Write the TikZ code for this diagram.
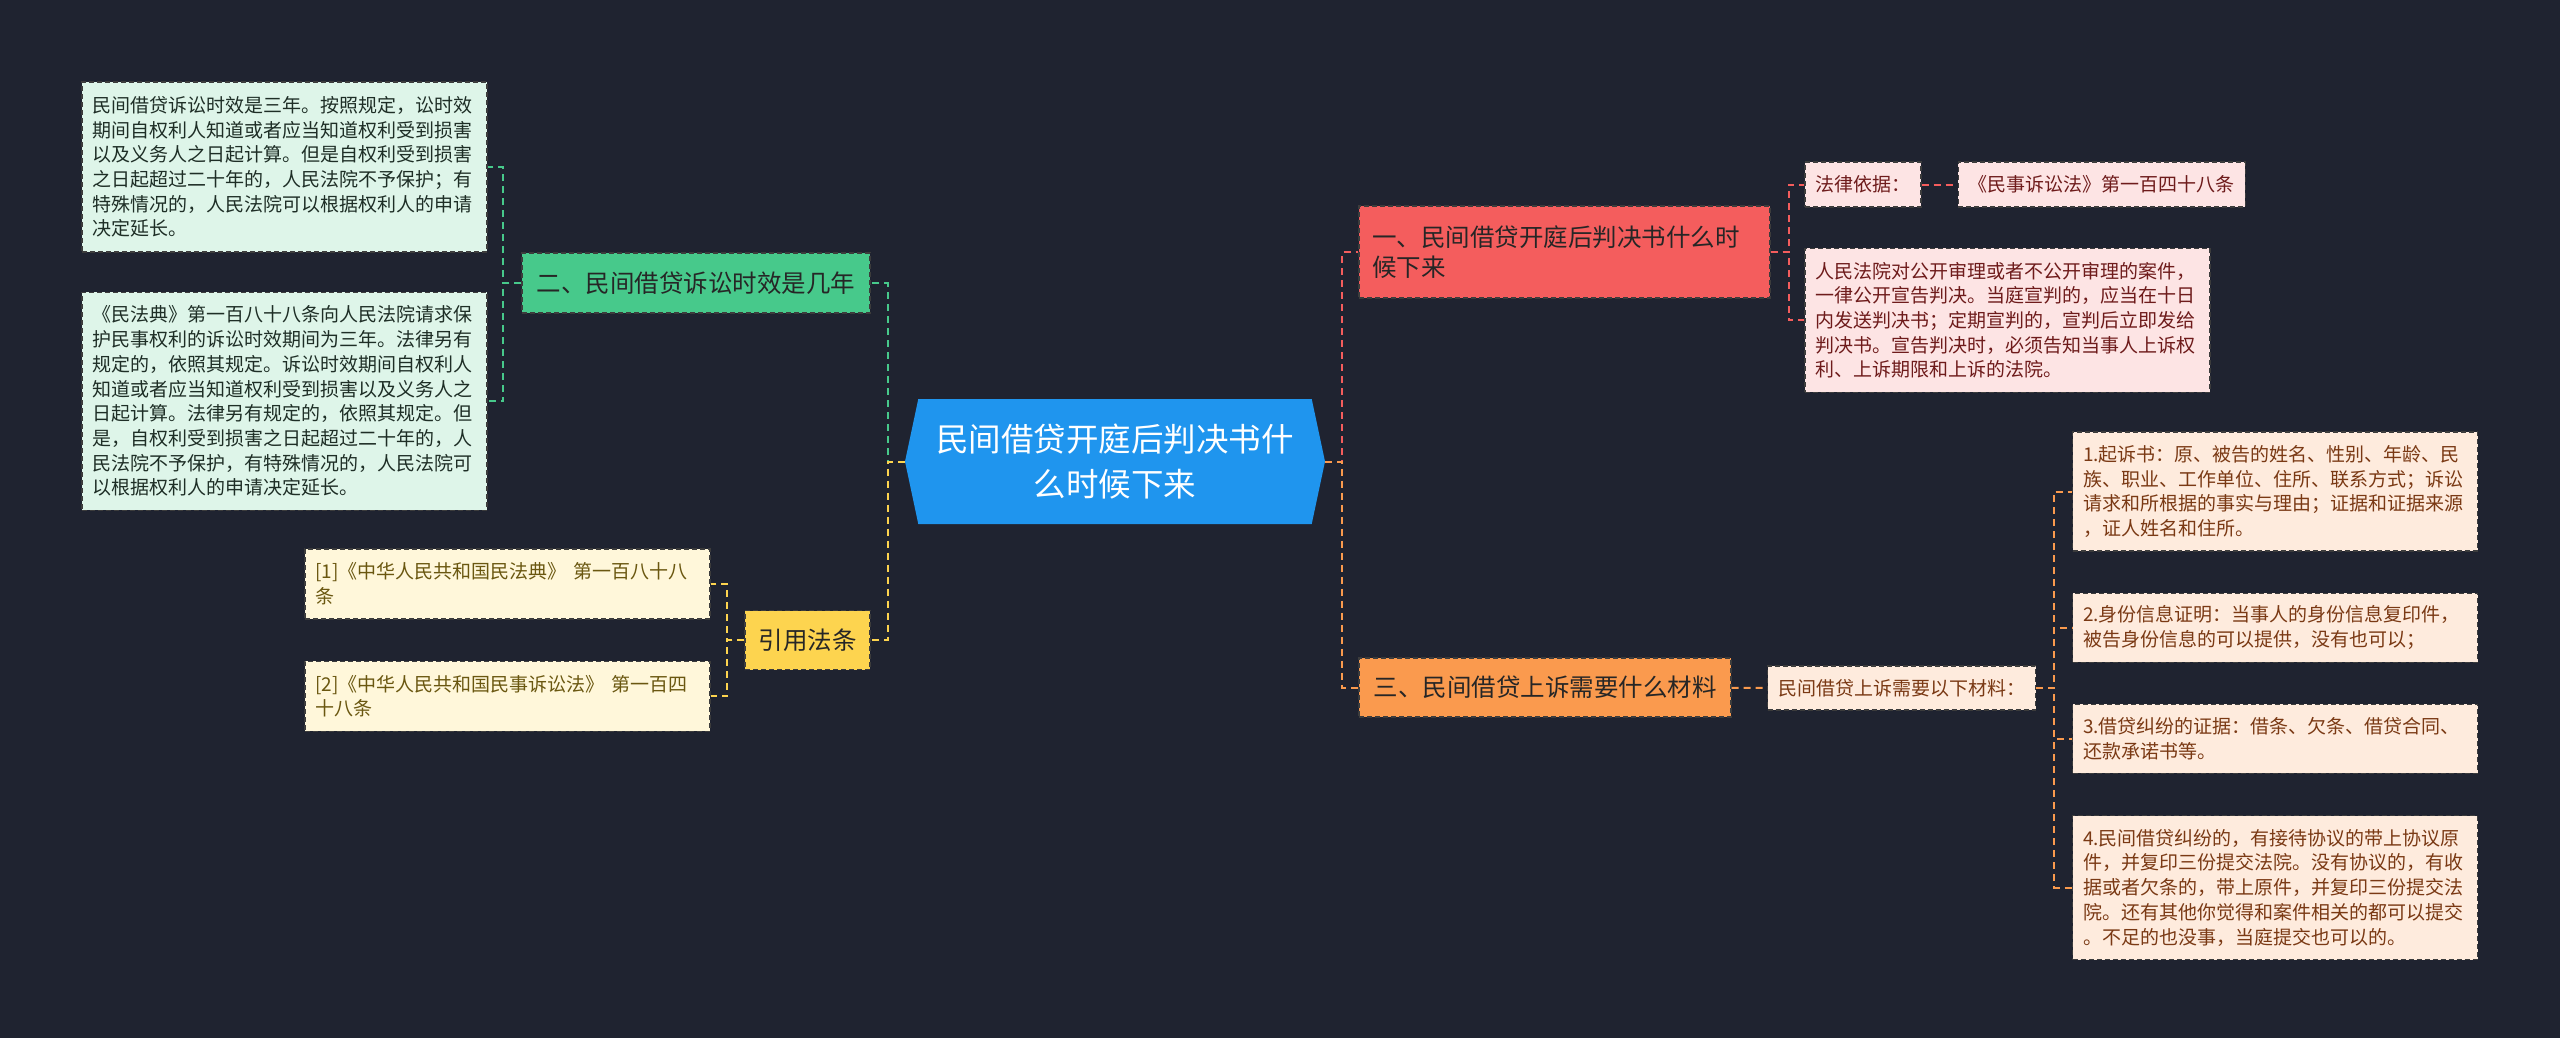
\documentclass[tikz,border=0pt]{standalone}
\usepackage{fontspec}
\setmainfont{Noto Sans CJK SC}
\usepackage{tikz}
\usetikzlibrary{positioning,shapes.symbols}
\usepackage{xcolor}
\definecolor{bgnavy}{HTML}{1F2330}
\definecolor{rootblue}{HTML}{1F95EE}
\definecolor{mintgreen}{HTML}{47C98B}
\definecolor{mintleaf}{HTML}{DEF5E9}
\definecolor{mintink}{HTML}{1E2E26}
\definecolor{goldyellow}{HTML}{FDD44F}
\definecolor{goldleaf}{HTML}{FFF7DA}
\definecolor{goldink}{HTML}{6A5710}
\definecolor{coralred}{HTML}{F45D5D}
\definecolor{coralleaf}{HTML}{FDE4E4}
\definecolor{coralink}{HTML}{6E1B1B}
\definecolor{peach}{HTML}{FA9A4E}
\definecolor{peachleaf}{HTML}{FEEBDD}
\definecolor{peachink}{HTML}{7A3914}
\definecolor{boxedge}{HTML}{3C3C3C}
\newcommand{\leaffont}{\fontsize{19}{24.7}\selectfont}
\newcommand{\branchfont}{\fontsize{24.5}{30}\selectfont}
\newcommand{\rootfont}{\fontsize{32.5}{45}\selectfont}

\begin{document}
\begin{tikzpicture}[
  x=1pt, y=-1pt,
  node distance=41pt,
  root/.style={signal, signal to=east and west, signal pointer angle=156, fill=rootblue, text=white, minimum width=420pt, minimum height=125pt, align=center, font=\rootfont, inner sep=4pt},
  branch/.style={draw=boxedge, line width=1.2pt, dash pattern=on 5pt off 3pt, fill=#1, text=black!85, inner xsep=13pt, inner ysep=6pt, font=\branchfont, align=left},
  leaf/.style={draw=boxedge, line width=1.2pt, dash pattern=on 5pt off 3pt, fill=#1, inner xsep=10.5pt, inner ysep=5pt, font=\leaffont, align=left},
  leafwide/.style={text width=384pt},
  link/.style={draw=#1, line width=2pt, dash pattern=on 7pt off 5pt}
]
\fill[bgnavy] (0,0) rectangle (2560,1038);
\useasboundingbox (0,0) rectangle (2560,1038);

\node[root] (root) at (1115,461.5) {民间借贷开庭后判决书什\\么时候下来};

% left side
\node[branch=mintgreen, minimum width=348pt, minimum height=60pt] (limit) at (696,283) {二、民间借贷诉讼时效是几年};
\node[branch=goldyellow, minimum width=125pt, minimum height=59pt] (cite) at (807.5,640) {引用法条};
\node[leaf=mintleaf, leafwide, text=mintink, minimum height=170pt] (limitA) at (284.5,167) {民间借贷诉讼时效是三年。按照规定，讼时效\\期间自权利人知道或者应当知道权利受到损害\\以及义务人之日起计算。但是自权利受到损害\\之日起超过二十年的，人民法院不予保护；有\\特殊情况的，人民法院可以根据权利人的申请\\决定延长。};
\node[leaf=mintleaf, leafwide, text=mintink, minimum height=218pt, below=39pt of limitA] (limitB) {《民法典》第一百八十八条向人民法院请求保\\护民事权利的诉讼时效期间为三年。法律另有\\规定的，依照其规定。诉讼时效期间自权利人\\知道或者应当知道权利受到损害以及义务人之\\日起计算。法律另有规定的，依照其规定。但\\是，自权利受到损害之日起超过二十年的，人\\民法院不予保护，有特殊情况的，人民法院可\\以根据权利人的申请决定延长。};
\node[leaf=goldleaf, leafwide, text=goldink, minimum height=70pt] (citeA) at (507.5,584) {[1]《中华人民共和国民法典》 第一百八十八\\条};
\node[leaf=goldleaf, leafwide, text=goldink, minimum height=70pt, below=of citeA] (citeB) {[2]《中华人民共和国民事诉讼法》 第一百四\\十八条};

% right side
\node[branch=coralred, text width=385pt, minimum height=92pt] (verdict) at (1564.5,252) {一、民间借贷开庭后判决书什么时\\候下来};
\node[branch=peach, minimum width=372pt, minimum height=59pt] (appeal) at (1545,687.5) {三、民间借贷上诉需要什么材料};
\node[leaf=coralleaf, text=coralink, minimum height=45pt] (basis) at (1863,184.5) {法律依据：};
\node[leaf=coralleaf, text=coralink, minimum height=45pt, right=36pt of basis] (lawref) {《民事诉讼法》第一百四十八条};
\node[leaf=coralleaf, leafwide, text=coralink, minimum height=144pt, below=40pt of basis.south west, anchor=north west] (ruling) {人民法院对公开审理或者不公开审理的案件，\\一律公开宣告判决。当庭宣判的，应当在十日\\内发送判决书；定期宣判的，宣判后立即发给\\判决书。宣告判决时，必须告知当事人上诉权\\利、上诉期限和上诉的法院。};
\node[leaf=peachleaf, text=peachink, minimum height=44pt] (needs) at (1901.5,688) {民间借贷上诉需要以下材料：};
\node[leaf=peachleaf, leafwide, text=peachink, minimum height=119pt] (itemA) at (2275,491.5) {1.起诉书：原、被告的姓名、性别、年龄、民\\族、职业、工作单位、住所、联系方式；诉讼\\请求和所根据的事实与理由；证据和证据来源\\，证人姓名和住所。};
\node[leaf=peachleaf, leafwide, text=peachink, minimum height=69pt, below=of itemA] (itemB) {2.身份信息证明：当事人的身份信息复印件，\\被告身份信息的可以提供，没有也可以；};
\node[leaf=peachleaf, leafwide, text=peachink, minimum height=69pt, below=of itemB] (itemC) {3.借贷纠纷的证据：借条、欠条、借贷合同、\\还款承诺书等。};
\node[leaf=peachleaf, leafwide, text=peachink, minimum height=144pt, below=of itemC] (itemD) {4.民间借贷纠纷的，有接待协议的带上协议原\\件，并复印三份提交法院。没有协议的，有收\\据或者欠条的，带上原件，并复印三份提交法\\院。还有其他你觉得和案件相关的都可以提交\\。不足的也没事，当庭提交也可以的。};

% connectors
\draw[link=mintgreen] (root.west) -- ++(-17,0) |- (limit.east);
\draw[link=goldyellow] (root.west) -- ++(-17,0) |- (cite.east);
\draw[link=coralred] (root.east) -- ++(17,0) |- (verdict.west);
\draw[link=peach] (root.east) -- ++(17,0) |- (appeal.west);
\draw[link=mintgreen] (limit.west) -- ++(-18,0) |- (limitA.east);
\draw[link=mintgreen] (limit.west) -- ++(-18,0) |- (limitB.east);
\draw[link=goldyellow] (cite.west) -- ++(-17,0) |- (citeA.east);
\draw[link=goldyellow] (cite.west) -- ++(-17,0) |- (citeB.east);
\draw[link=coralred] (verdict.east) -- ++(18,0) |- (basis.west);
\draw[link=coralred] (verdict.east) -- ++(18,0) |- (ruling.west);
\draw[link=coralred] (basis) -- (lawref);
\draw[link=peach] (appeal) -- (needs);
\foreach \k in {itemA,itemB,itemC,itemD}
  \draw[link=peach] (needs.east) -- ++(18,0) |- (\k.west);
\end{tikzpicture}
\end{document}
